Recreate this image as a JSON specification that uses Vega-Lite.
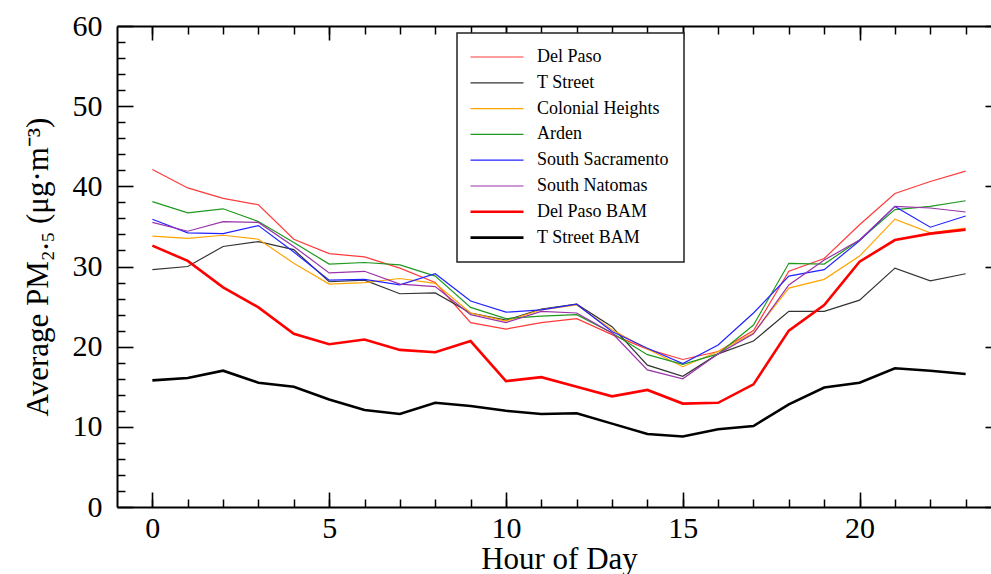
{
  "$schema": "https://vega.github.io/schema/vega-lite/v6.json",
  "width": 884,
  "height": 481,
  "autosize": {"type": "none"},
  "padding": {"left": 117, "top": 26, "right": 0, "bottom": 67},
  "data": {
    "values": [
      {"hour":0,"site":"Del Paso","pm":42.1},{"hour":1,"site":"Del Paso","pm":39.8},{"hour":2,"site":"Del Paso","pm":38.5},{"hour":3,"site":"Del Paso","pm":37.7},{"hour":4,"site":"Del Paso","pm":33.4},{"hour":5,"site":"Del Paso","pm":31.6},{"hour":6,"site":"Del Paso","pm":31.2},{"hour":7,"site":"Del Paso","pm":29.8},{"hour":8,"site":"Del Paso","pm":28.0},{"hour":9,"site":"Del Paso","pm":23.0},{"hour":10,"site":"Del Paso","pm":22.2},{"hour":11,"site":"Del Paso","pm":23.0},{"hour":12,"site":"Del Paso","pm":23.5},{"hour":13,"site":"Del Paso","pm":21.5},{"hour":14,"site":"Del Paso","pm":19.7},{"hour":15,"site":"Del Paso","pm":18.4},{"hour":16,"site":"Del Paso","pm":19.4},{"hour":17,"site":"Del Paso","pm":22.0},{"hour":18,"site":"Del Paso","pm":29.4},{"hour":19,"site":"Del Paso","pm":31.0},{"hour":20,"site":"Del Paso","pm":35.2},{"hour":21,"site":"Del Paso","pm":39.1},{"hour":22,"site":"Del Paso","pm":40.6},{"hour":23,"site":"Del Paso","pm":41.9},
      {"hour":0,"site":"T Street","pm":29.6},{"hour":1,"site":"T Street","pm":30.0},{"hour":2,"site":"T Street","pm":32.5},{"hour":3,"site":"T Street","pm":33.1},{"hour":4,"site":"T Street","pm":32.1},{"hour":5,"site":"T Street","pm":28.1},{"hour":6,"site":"T Street","pm":28.3},{"hour":7,"site":"T Street","pm":26.6},{"hour":8,"site":"T Street","pm":26.7},{"hour":9,"site":"T Street","pm":24.2},{"hour":10,"site":"T Street","pm":23.3},{"hour":11,"site":"T Street","pm":24.7},{"hour":12,"site":"T Street","pm":25.3},{"hour":13,"site":"T Street","pm":22.5},{"hour":14,"site":"T Street","pm":17.7},{"hour":15,"site":"T Street","pm":16.3},{"hour":16,"site":"T Street","pm":19.1},{"hour":17,"site":"T Street","pm":20.7},{"hour":18,"site":"T Street","pm":24.4},{"hour":19,"site":"T Street","pm":24.4},{"hour":20,"site":"T Street","pm":25.8},{"hour":21,"site":"T Street","pm":29.8},{"hour":22,"site":"T Street","pm":28.2},{"hour":23,"site":"T Street","pm":29.1},
      {"hour":0,"site":"Colonial Heights","pm":33.8},{"hour":1,"site":"Colonial Heights","pm":33.5},{"hour":2,"site":"Colonial Heights","pm":33.9},{"hour":3,"site":"Colonial Heights","pm":33.4},{"hour":4,"site":"Colonial Heights","pm":30.4},{"hour":5,"site":"Colonial Heights","pm":27.8},{"hour":6,"site":"Colonial Heights","pm":28.0},{"hour":7,"site":"Colonial Heights","pm":28.5},{"hour":8,"site":"Colonial Heights","pm":27.9},{"hour":9,"site":"Colonial Heights","pm":24.2},{"hour":10,"site":"Colonial Heights","pm":23.2},{"hour":11,"site":"Colonial Heights","pm":24.6},{"hour":12,"site":"Colonial Heights","pm":25.2},{"hour":13,"site":"Colonial Heights","pm":22.1},{"hour":14,"site":"Colonial Heights","pm":19.7},{"hour":15,"site":"Colonial Heights","pm":17.5},{"hour":16,"site":"Colonial Heights","pm":19.4},{"hour":17,"site":"Colonial Heights","pm":21.7},{"hour":18,"site":"Colonial Heights","pm":27.3},{"hour":19,"site":"Colonial Heights","pm":28.4},{"hour":20,"site":"Colonial Heights","pm":31.3},{"hour":21,"site":"Colonial Heights","pm":35.9},{"hour":22,"site":"Colonial Heights","pm":34.2},{"hour":23,"site":"Colonial Heights","pm":34.8},
      {"hour":0,"site":"Arden","pm":38.1},{"hour":1,"site":"Arden","pm":36.7},{"hour":2,"site":"Arden","pm":37.2},{"hour":3,"site":"Arden","pm":35.6},{"hour":4,"site":"Arden","pm":33.0},{"hour":5,"site":"Arden","pm":30.3},{"hour":6,"site":"Arden","pm":30.5},{"hour":7,"site":"Arden","pm":30.2},{"hour":8,"site":"Arden","pm":28.8},{"hour":9,"site":"Arden","pm":24.9},{"hour":10,"site":"Arden","pm":23.5},{"hour":11,"site":"Arden","pm":23.8},{"hour":12,"site":"Arden","pm":24.0},{"hour":13,"site":"Arden","pm":21.7},{"hour":14,"site":"Arden","pm":19.0},{"hour":15,"site":"Arden","pm":17.8},{"hour":16,"site":"Arden","pm":19.1},{"hour":17,"site":"Arden","pm":22.7},{"hour":18,"site":"Arden","pm":30.4},{"hour":19,"site":"Arden","pm":30.3},{"hour":20,"site":"Arden","pm":33.3},{"hour":21,"site":"Arden","pm":37.1},{"hour":22,"site":"Arden","pm":37.5},{"hour":23,"site":"Arden","pm":38.2},
      {"hour":0,"site":"South Sacramento","pm":35.9},{"hour":1,"site":"South Sacramento","pm":34.2},{"hour":2,"site":"South Sacramento","pm":34.1},{"hour":3,"site":"South Sacramento","pm":35.1},{"hour":4,"site":"South Sacramento","pm":31.8},{"hour":5,"site":"South Sacramento","pm":28.3},{"hour":6,"site":"South Sacramento","pm":28.4},{"hour":7,"site":"South Sacramento","pm":27.7},{"hour":8,"site":"South Sacramento","pm":29.1},{"hour":9,"site":"South Sacramento","pm":25.7},{"hour":10,"site":"South Sacramento","pm":24.3},{"hour":11,"site":"South Sacramento","pm":24.6},{"hour":12,"site":"South Sacramento","pm":25.3},{"hour":13,"site":"South Sacramento","pm":21.9},{"hour":14,"site":"South Sacramento","pm":19.8},{"hour":15,"site":"South Sacramento","pm":17.9},{"hour":16,"site":"South Sacramento","pm":20.2},{"hour":17,"site":"South Sacramento","pm":24.2},{"hour":18,"site":"South Sacramento","pm":28.8},{"hour":19,"site":"South Sacramento","pm":29.6},{"hour":20,"site":"South Sacramento","pm":33.2},{"hour":21,"site":"South Sacramento","pm":37.5},{"hour":22,"site":"South Sacramento","pm":34.9},{"hour":23,"site":"South Sacramento","pm":36.3},
      {"hour":0,"site":"South Natomas","pm":35.5},{"hour":1,"site":"South Natomas","pm":34.4},{"hour":2,"site":"South Natomas","pm":35.6},{"hour":3,"site":"South Natomas","pm":35.5},{"hour":4,"site":"South Natomas","pm":32.5},{"hour":5,"site":"South Natomas","pm":29.2},{"hour":6,"site":"South Natomas","pm":29.4},{"hour":7,"site":"South Natomas","pm":27.8},{"hour":8,"site":"South Natomas","pm":27.5},{"hour":9,"site":"South Natomas","pm":24.0},{"hour":10,"site":"South Natomas","pm":23.0},{"hour":11,"site":"South Natomas","pm":24.4},{"hour":12,"site":"South Natomas","pm":24.2},{"hour":13,"site":"South Natomas","pm":21.7},{"hour":14,"site":"South Natomas","pm":17.1},{"hour":15,"site":"South Natomas","pm":16.0},{"hour":16,"site":"South Natomas","pm":19.1},{"hour":17,"site":"South Natomas","pm":21.6},{"hour":18,"site":"South Natomas","pm":27.7},{"hour":19,"site":"South Natomas","pm":30.8},{"hour":20,"site":"South Natomas","pm":33.3},{"hour":21,"site":"South Natomas","pm":37.5},{"hour":22,"site":"South Natomas","pm":37.3},{"hour":23,"site":"South Natomas","pm":36.8},
      {"hour":0,"site":"Del Paso BAM","pm":32.6},{"hour":1,"site":"Del Paso BAM","pm":30.7},{"hour":2,"site":"Del Paso BAM","pm":27.4},{"hour":3,"site":"Del Paso BAM","pm":24.9},{"hour":4,"site":"Del Paso BAM","pm":21.6},{"hour":5,"site":"Del Paso BAM","pm":20.3},{"hour":6,"site":"Del Paso BAM","pm":20.9},{"hour":7,"site":"Del Paso BAM","pm":19.6},{"hour":8,"site":"Del Paso BAM","pm":19.3},{"hour":9,"site":"Del Paso BAM","pm":20.7},{"hour":10,"site":"Del Paso BAM","pm":15.7},{"hour":11,"site":"Del Paso BAM","pm":16.2},{"hour":12,"site":"Del Paso BAM","pm":15.0},{"hour":13,"site":"Del Paso BAM","pm":13.8},{"hour":14,"site":"Del Paso BAM","pm":14.6},{"hour":15,"site":"Del Paso BAM","pm":12.9},{"hour":16,"site":"Del Paso BAM","pm":13.0},{"hour":17,"site":"Del Paso BAM","pm":15.3},{"hour":18,"site":"Del Paso BAM","pm":22.0},{"hour":19,"site":"Del Paso BAM","pm":25.2},{"hour":20,"site":"Del Paso BAM","pm":30.6},{"hour":21,"site":"Del Paso BAM","pm":33.3},{"hour":22,"site":"Del Paso BAM","pm":34.1},{"hour":23,"site":"Del Paso BAM","pm":34.6},
      {"hour":0,"site":"T Street BAM","pm":15.8},{"hour":1,"site":"T Street BAM","pm":16.1},{"hour":2,"site":"T Street BAM","pm":17.0},{"hour":3,"site":"T Street BAM","pm":15.5},{"hour":4,"site":"T Street BAM","pm":15.0},{"hour":5,"site":"T Street BAM","pm":13.4},{"hour":6,"site":"T Street BAM","pm":12.1},{"hour":7,"site":"T Street BAM","pm":11.6},{"hour":8,"site":"T Street BAM","pm":13.0},{"hour":9,"site":"T Street BAM","pm":12.6},{"hour":10,"site":"T Street BAM","pm":12.0},{"hour":11,"site":"T Street BAM","pm":11.6},{"hour":12,"site":"T Street BAM","pm":11.7},{"hour":13,"site":"T Street BAM","pm":10.4},{"hour":14,"site":"T Street BAM","pm":9.1},{"hour":15,"site":"T Street BAM","pm":8.8},{"hour":16,"site":"T Street BAM","pm":9.7},{"hour":17,"site":"T Street BAM","pm":10.1},{"hour":18,"site":"T Street BAM","pm":12.8},{"hour":19,"site":"T Street BAM","pm":14.9},{"hour":20,"site":"T Street BAM","pm":15.5},{"hour":21,"site":"T Street BAM","pm":17.3},{"hour":22,"site":"T Street BAM","pm":17.0},{"hour":23,"site":"T Street BAM","pm":16.6}
    ]
  },
  "config": {
    "view": {"stroke": null},
    "axis": {
      "grid": false,
      "domainColor": "black",
      "tickColor": "black",
      "labelColor": "black",
      "titleColor": "black",
      "labelFont": "Liberation Serif",
      "titleFont": "Liberation Serif",
      "titleFontWeight": "normal",
      "labelFlush": false
    }
  },
  "resolve": {"axis": {"x": "independent", "y": "independent"}},
  "layer": [
    {
      "transform": [{"filter": "indexof(datum.site, 'BAM') < 0"}],
      "mark": {"type": "line", "strokeWidth": 1.2},
      "encoding": {
        "x": {
          "field": "hour", "type": "quantitative",
          "scale": {"domain": [-1, 24], "nice": false, "zero": false},
          "axis": {"orient": "bottom", "values": [0, 5, 10, 15, 20], "ticks": false, "domainWidth": 2, "labelFontSize": 30, "labelPadding": 6, "title": "Hour of Day", "titleFontSize": 31, "titlePadding": 1}
        },
        "y": {
          "field": "pm", "type": "quantitative",
          "scale": {"domain": [0, 60], "nice": false},
          "axis": {"orient": "left", "values": [0, 10, 20, 30, 40, 50, 60], "ticks": false, "domainWidth": 2, "labelFontSize": 30, "labelPadding": 15, "title": "Average PM₂.₅ (μg·m⁻³)", "titleFontSize": 31, "titlePadding": 18}
        },
        "color": {
          "field": "site", "type": "nominal",
          "scale": {
            "domain": ["Del Paso", "T Street", "Colonial Heights", "Arden", "South Sacramento", "South Natomas", "Del Paso BAM", "T Street BAM"],
            "range": ["#ff3a3a", "#333333", "#ffa500", "#1f991f", "#2222ff", "#9933aa", "#ff0000", "#000000"]
          },
          "legend": {
            "orient": "none", "legendX": 340, "legendY": 7, "title": null,
            "padding": 15, "strokeColor": "#222222", "fillColor": "white",
            "symbolType": "M-5.3,0H5.3", "symbolSize": 100, "symbolStrokeWidth": 1.2, "symbolOffset": 16,
            "labelOffset": 31,
            "labelFont": "Liberation Serif", "labelFontSize": 18, "labelColor": "black",
            "labelLimit": 400, "rowPadding": 7.8,
            "encode": {
              "symbols": {"update": {"strokeWidth": {"signal": "indexof('' + datum.value, 'BAM') >= 0 ? 2.6 : 1.2"}}},
              "legend": {"update": {"strokeWidth": {"value": 1.5}}}
            }
          }
        }
      }
    },
    {
      "transform": [{"filter": "indexof(datum.site, 'BAM') >= 0"}],
      "mark": {"type": "line", "strokeWidth": 2.6},
      "encoding": {
        "x": {"field": "hour", "type": "quantitative", "axis": {"orient": "bottom", "values": [0, 5, 10, 15, 20], "labels": false, "domain": false, "title": null, "tickSize": -15, "tickWidth": 1.6}},
        "y": {"field": "pm", "type": "quantitative", "axis": {"orient": "left", "values": [0, 10, 20, 30, 40, 50, 60], "labels": false, "domain": false, "title": null, "tickSize": -16, "tickWidth": 1.6}},
        "color": {"field": "site", "type": "nominal"}
      }
    },
    {
      "mark": {"type": "point", "opacity": 0},
      "encoding": {
        "x": {"field": "hour", "type": "quantitative", "axis": {"orient": "bottom", "values": [0,1,2,3,4,5,6,7,8,9,10,11,12,13,14,15,16,17,18,19,20,21,22,23], "labels": false, "domain": false, "title": null, "tickSize": -8, "tickWidth": 1.5}},
        "y": {"field": "pm", "type": "quantitative", "axis": {"orient": "left", "values": [2,4,6,8,12,14,16,18,22,24,26,28,32,34,36,38,42,44,46,48,52,54,56,58], "labels": false, "domain": false, "title": null, "tickSize": -8, "tickWidth": 1.5}}
      }
    },
    {
      "mark": {"type": "point", "opacity": 0},
      "encoding": {
        "x": {"field": "hour", "type": "quantitative", "axis": {"orient": "top", "values": [0, 5, 10, 15, 20], "labels": false, "domain": true, "domainWidth": 2, "title": null, "tickSize": -14, "tickWidth": 1.6}},
        "y": {"field": "pm", "type": "quantitative", "axis": {"orient": "right", "values": [0, 10, 20, 30, 40, 50, 60], "labels": false, "domain": true, "domainWidth": 2, "title": null, "tickSize": -16, "tickWidth": 1.6}}
      }
    },
    {
      "mark": {"type": "point", "opacity": 0},
      "encoding": {
        "x": {"field": "hour", "type": "quantitative", "axis": {"orient": "top", "values": [0,1,2,3,4,5,6,7,8,9,10,11,12,13,14,15,16,17,18,19,20,21,22,23], "labels": false, "domain": false, "title": null, "tickSize": -8, "tickWidth": 1.5}},
        "y": {"field": "pm", "type": "quantitative", "axis": {"orient": "right", "values": [2,4,6,8,12,14,16,18,22,24,26,28,32,34,36,38,42,44,46,48,52,54,56,58], "labels": false, "domain": false, "title": null, "tickSize": -8, "tickWidth": 1.5}}
      }
    }
  ]
}
